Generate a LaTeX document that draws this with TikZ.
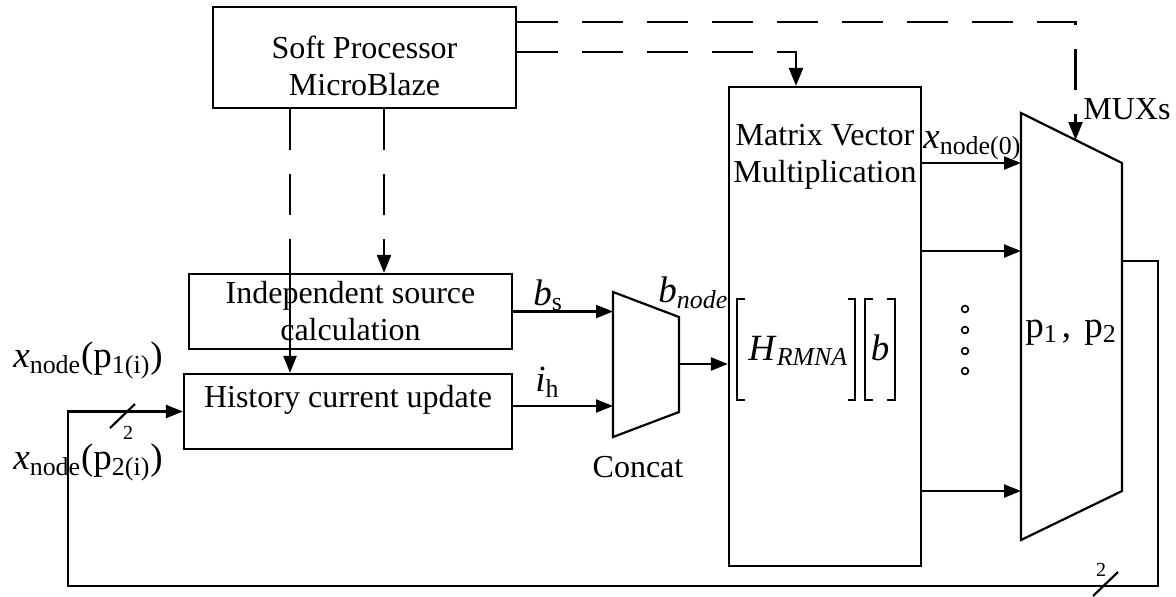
\documentclass[tikz,border=0pt]{standalone}
\usepackage{fontspec}
\setmainfont{Liberation Serif}
\usetikzlibrary{calc, arrows.meta}
\newcommand\blkfont{\fontsize{16}{18.5}\selectfont}
\newcommand\symfont{\fontsize{18.5}{22}\selectfont}
\newcommand\busfont{\fontsize{10}{11}\selectfont}
\begin{document}
\begin{tikzpicture}[x=0.5pt, y=-0.5pt,
  blk/.style={draw, line width=1.1pt, inner sep=0pt, align=center, font=\blkfont},
  txt/.style={inner sep=0pt, align=center, font=\blkfont},
  sym/.style={inner sep=0pt, font=\symfont, anchor=base west},
  sig/.style={line width=1.1pt, -{Triangle[length=8.5pt, width=6.5pt]}},
  ctrl/.style={line width=1.1pt, dash pattern=on 20.5pt off 12pt},
  ctrlarrow/.style={ctrl, -{Triangle[length=9pt, width=7pt]}},
  brk/.style={line width=0.9pt}]
\useasboundingbox (0,0) rectangle (1176,596);

\node[blk, minimum width=151.5pt, minimum height=50.5pt] (sp) at (364.5,57.5) {};
\node[txt] (spText) at (364.5,66) {Soft Processor\\MicroBlaze};
\node[blk, minimum width=161.5pt, minimum height=37.5pt] (ind) at (350.5,311.5) {Independent source\\calculation};
\node[blk, minimum width=164pt, minimum height=37.5pt] (hist) at (348,411.5) {};
\node[txt] (histText) at (348,400) {History current update};
\node[blk, minimum width=96pt, minimum height=239.5pt] (mvm) at (825,326.5) {};
\node[txt] (mvmText) at (825,157) {Matrix Vector\\Multiplication};

\coordinate (catTL) at (613,292);
\coordinate (catTR) at (679,317);
\coordinate (catBR) at (679,412);
\coordinate (catBL) at (613,437);
\coordinate (catO) at (679,364);
\draw[line width=1.1pt] (catTL) -- (catTR) -- (catBR) -- (catBL) -- cycle;

\coordinate (muxTL) at (1021,113);
\coordinate (muxTR) at (1122,163);
\coordinate (muxBR) at (1122,491);
\coordinate (muxBL) at (1021,540);
\coordinate (muxO) at (1122,261);
\coordinate (muxC) at ($(muxTL)!0.54!(muxTR)$);
\draw[line width=1.1pt] (muxTL) -- (muxTR) -- (muxBR) -- (muxBL) -- cycle;

\coordinate (spL) at ([xshift=-37.25pt]sp.south);
\coordinate (spR) at ([xshift=9.75pt]sp.south);
\coordinate (spA) at ([yshift=17.75pt]sp.east);
\coordinate (spB) at ([yshift=2.75pt]sp.east);
\coordinate (mvmIn) at ([xshift=-14.5pt]mvm.north);
\coordinate (ihO) at ([yshift=2.75pt]hist.east);
\coordinate (fbR) at (1158,586);
\coordinate (fbL) at (68,586);

\draw[ctrl] (spL) -- (spL |- ind.north);
\draw[sig] (spL |- ind.north) -- (spL |- hist.north);
\draw[ctrlarrow] (spR) -- (spR |- ind.north);
\draw[ctrlarrow] (spB) -| (mvmIn);
\draw[ctrlarrow] (spA) -| (muxC);

\draw[sig] (ind.east) -- (ind.east -| catTL);
\draw[sig] (ihO) -- (ihO -| catTL);
\draw[sig] (catO) -- (catO -| mvm.west);
\foreach \yy in {163,251,491}
  \draw[sig] (mvm.east |- 0,\yy) -- (muxTL |- 0,\yy);
\draw[sig] (muxO) -| (fbR) -- (fbL) |- (hist.west);

\draw[line width=1.1pt] (110,428) -- (135,404);
\draw[line width=1.1pt] (1093,596) -- (1118,572);
\node[inner sep=0pt, font=\busfont] (busA) at (128,433) {2};
\node[inner sep=0pt, font=\busfont] (busB) at (1101,570) {2};

\foreach \yy in {309,330,351,371}
  \draw[line width=0.8pt] (965,\yy) circle[radius=1.7pt];

\foreach \xa/\xb in {737/745, 855/848, 865/873, 895/887}
  \draw[brk] (\xb,299) -- (\xa,299) -- (\xa,400) -- (\xb,400);
\node[sym] (hLabel) at (748,360) {\textit{H}\textsubscript{\textit{RMNA}}};
\node[sym, anchor=base] (bLabel) at (880,360) {\textit{b}};

\node[sym] (bsLabel) at (533,305) {\textit{b}\textsubscript{s}};
\node[sym] (ihLabel) at (535,391) {\textit{i}\textsubscript{h}};
\node[sym] (bnLabel) at (658,302) {\textit{b}\textsubscript{\textit{node}}};
\node[sym] (x0Label) at (923,148) {\textit{x}\textsubscript{node(0)}};
\node[sym] (xp1Label) at (13,367) {\textit{x}\textsubscript{node}(p\textsubscript{1(i)})};
\node[sym] (xp2Label) at (13,469) {\textit{x}\textsubscript{node}(p\textsubscript{2(i)})};
\node[sym] (pLabel) at (1025,337) {p\textsubscript{1}\kern2pt, \kern2pt p\textsubscript{2}};
\node[txt, anchor=base west] (muxLabel) at (1083,119) {MUXs};
\node[txt, anchor=base] (catLabel) at (638,477) {Concat};
\end{tikzpicture}
\end{document}
